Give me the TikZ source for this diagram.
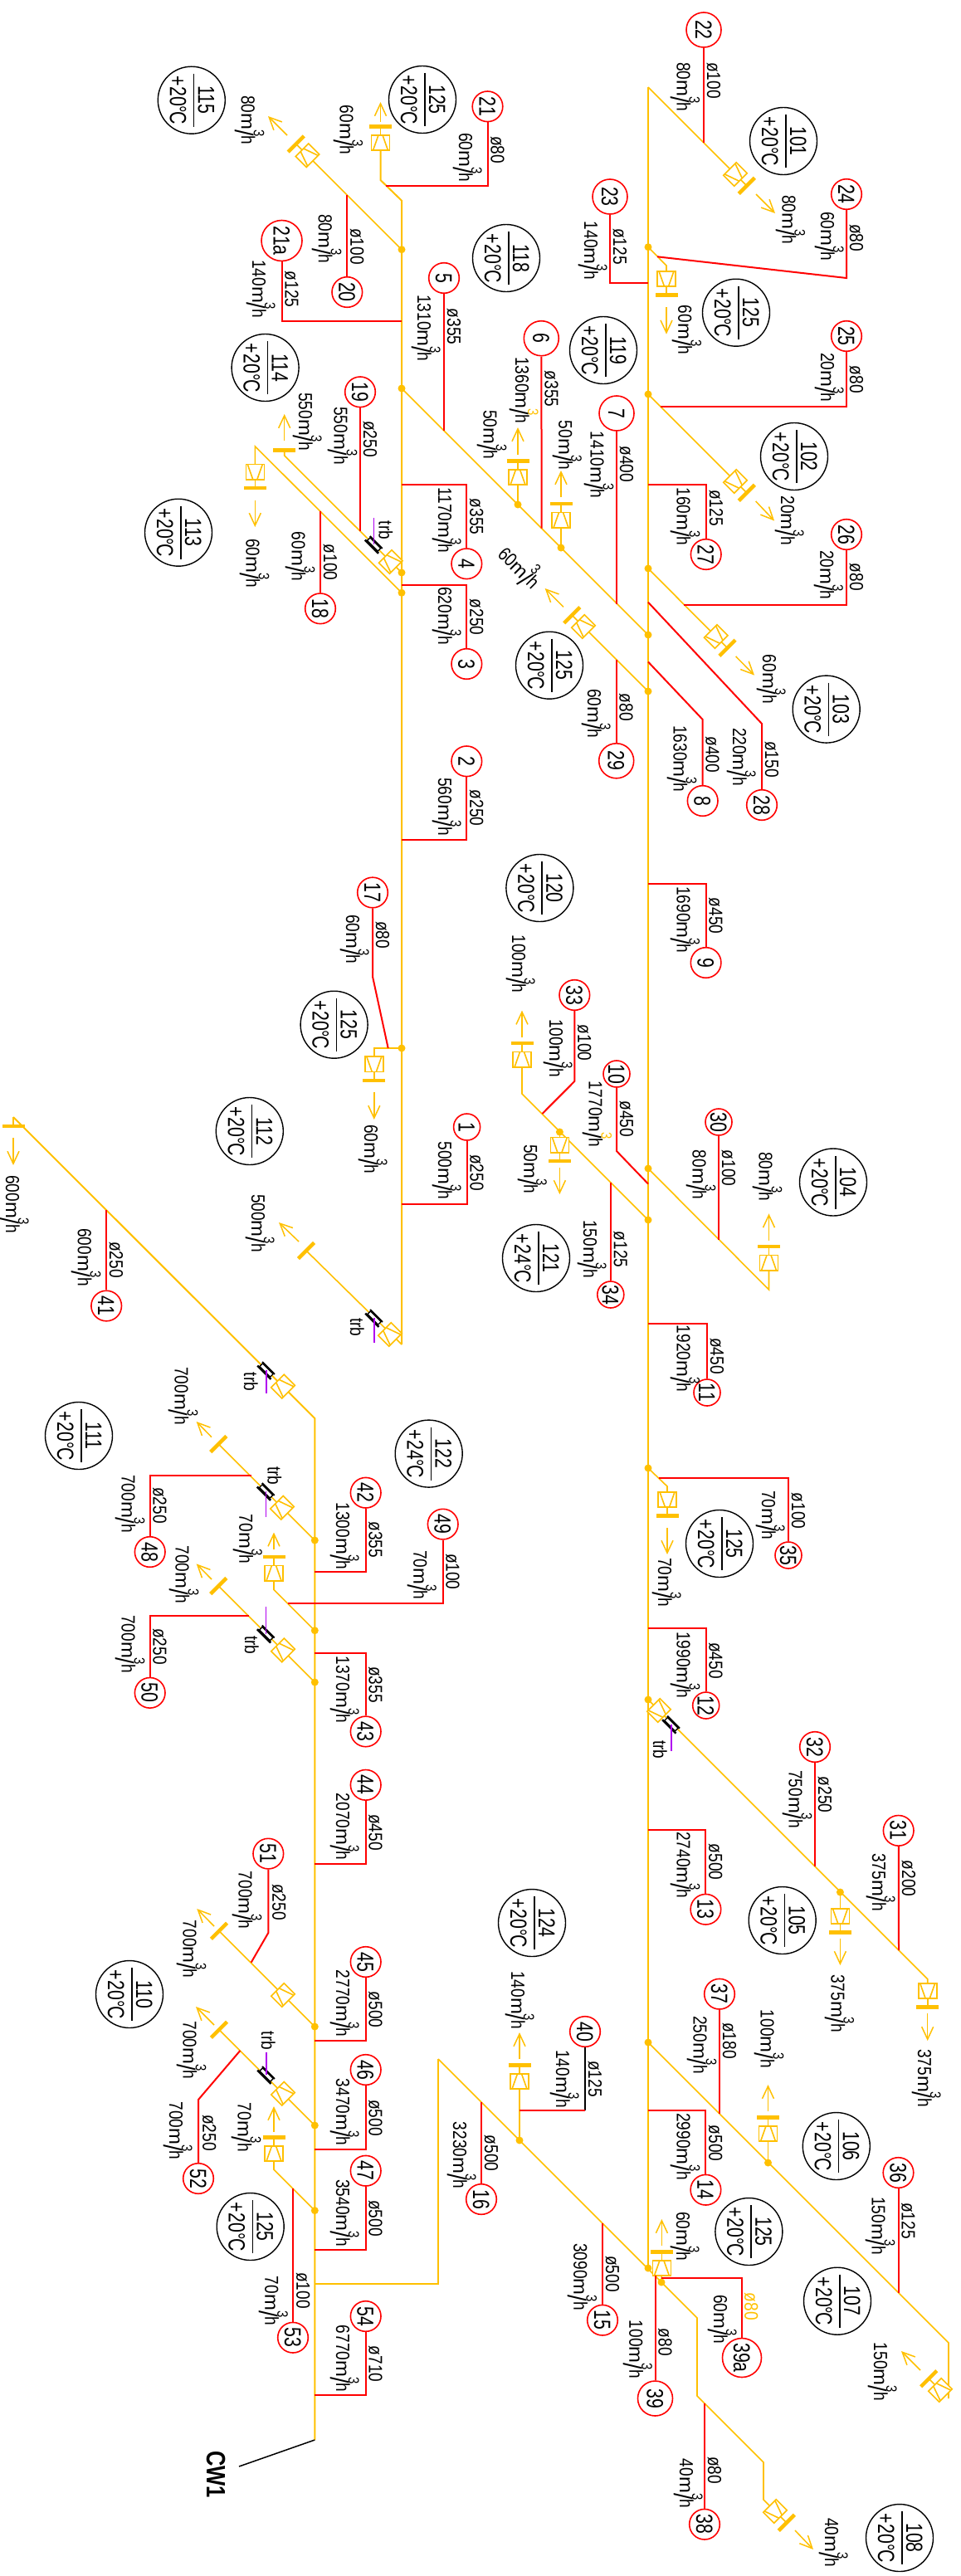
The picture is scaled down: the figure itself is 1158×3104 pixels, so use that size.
\documentclass[tikz,border=0pt]{standalone}
\usepackage{fontspec}
\usepackage{graphicx}
\usetikzlibrary{arrows.meta}
\newfontfamily\labfont[FakeStretch=.83]{Liberation Sans}
\newfontfamily\bubfont[FakeStretch=.76]{Liberation Sans}
\newfontfamily\cwfont[FakeStretch=.8]{Liberation Sans}
\definecolor{pipeyel}{HTML}{FFC000}
\definecolor{trbvio}{HTML}{B000F0}

\newcommand{\flowtxt}[2][black]{#2\scalebox{1.25}[1]{m}\rlap{\raisebox{.66em}{\textcolor{#1}{\fontsize{18}{18}\selectfont 3}}}\raisebox{-.3em}{\scalebox{1.4}[1.35]{/}}h}
\newcommand{\tagtxt}[1]{\smash{\makebox[0pt]{\raisebox{-10pt}{#1}}}}
\newcommand{\roomtxt}[2]{\smash{\makebox[0pt]{\raisebox{8pt}{#1}}\makebox[0pt]{\rule[2pt]{64pt}{1.5pt}}\makebox[0pt]{\raisebox{-26pt}{+\kern1pt#2\kern-.5pt°\kern-1.5pt C}}}}
\newcommand{\boxvcode}{
  \draw[yelthin,fill=white] (-9.2,-11) rectangle (9.2,11);
  \draw[yelthin] (-9.2,-9) -- (9.2,-2.5) (-9.2,9) -- (9.2,2.5);
}
\newcommand{\barvcode}[1]{
  \draw[draw=pipeyel,line width=4.5pt] (#1,-13.5) -- (#1,13.5);
}

\tikzset{
  yelpipe/.style={draw=pipeyel,line width=2pt},
  yelthin/.style={draw=pipeyel,line width=1.6pt},
  redpipe/.style={draw=red,line width=2pt},
  flowarr/.style={draw=pipeyel,line width=1.5pt,-{Straight Barb[length=15pt,width=14pt]}},
  tagnode/.style={circle,draw=red,line width=1.6pt,inner sep=0pt,rotate=-90,font=\bubfont\fontsize{28}{28}\selectfont},
  roombub/.style={circle,draw=black,line width=1.4pt,inner sep=0pt,minimum size=81pt,rotate=-90,font=\bubfont\fontsize{28}{28}\selectfont},
  dialab/.style={rotate=-90,anchor=base west,inner sep=0pt,font=\labfont\fontsize{23}{23}\selectfont},
  flowlab/.style={dialab},
  boxv/.pic={\boxvcode},
  barv/.pic={\barvcode{0}},
  valve/.pic={
    \boxvcode
    \draw[yelthin] (9.2,0) -- (19.5,0);
    \barvcode{19.5}
  },
  trbsym/.pic={
    \draw[black,line width=1.4pt,fill=white] (-9,-2.5) rectangle (9,2.5);
    \draw[black,line width=2.6pt] (-11.5,3.8) -- (11.5,3.8);
    \draw[black,line width=2pt] (-10.5,-3.6) -- (10.5,-3.6);
  },
}

\begin{document}
\begin{tikzpicture}[x=1pt,y=-1pt]
\useasboundingbox (0,0) rectangle (1158,3104);

% pipe points
\foreach \n/\x/\y in {
  lv1/458.5/172, la/458.5/217, lb/484/241.7, lc/484/1620,
  d115/484/300.7, v115/370.5/187.3, dA/484/468, dB/781/765,
  d690/484/690, e690/342.7/549, b690/342.7/542.7, d714/484/714.3,
  e714/307.3/537.7, v714/307.3/568.7, d1263/484/1263, e1263/450.8/1263, v1263/450.8/1282.4,
  b1507/369/1507, d608/624/608, v608/624/575, d660/676/660, v660/676/626.7,
  d833/781/833, v833/703/755,
  ra/781/105, rb/781/2733, v101/886/210, d298/781/297.7, e298/803/320, v298/803/336,
  d475/781/475, v102/886/580, d685/781/685, v103/862.7/767,
  d1408/781/1408, e1408/926.5/1554, v1408/926.5/1521.6,
  d1470/781/1470, e1470/629/1318, v1470/629/1276.7, d1364/674.4/1364, v1364/674.4/1379.6,
  d1769/781/1769, e1769/804/1791, v1769/804/1807,
  d2048/781/2048, e2048/1117.7/2384.7, v2048/1117.7/2399, d2280/1012.4/2280, v2280/1012.4/2309,
  d2461/781/2461, e2461/1143/2823, f2461/1143/2890, v2461/1133/2880, d2606/925.5/2606, v2606/925.5/2571,
  ma/16/1346, mb/16/1357, mc/379.3/1709, md/379.3/2940,
  d1856/379.3/1856, b1740/263.3/1740, d1965/379.3/1964.7, e1965/330/1915.4, v1965/330/1895.5,
  d2027/379.3/2027, b1911/263.3/1911, d2442/379.3/2442, b2327/264/2326.7,
  d2561/379.3/2561, b2446/264/2445.7, d2664/379.3/2663.6, e2664/330/2614.3, v2664/330/2595,
  na/379.3/2752, nb/528/2752, nc/528/2481, nd/840/2793, ne/840/2887, nf/920/2967, ng/920/3012, v108/934/3026,
  d2579/626/2579, v2579/626/2508, d2733/781/2733, d2750/797/2750, v2750/797.4/2733,
  cwa/379.3/2940, cwb/288/2972}
  \coordinate (\n) at (\x,\y);

\draw[yelpipe] (lv1) -- (la) -- (lb) -- (lc);
\draw[yelpipe] (ra) -- (rb);
\draw[yelpipe] (ma) -- (mc) -- (md);
\draw[yelthin] (ma) -- (mb);
\draw[yelthin] (ra) -- (v101);
\draw[yelthin] (lc) -- (b1507);
\draw[yelthin] (d115) -- (v115);
\draw[yelthin] (dA) -- (dB);
\draw[yelthin] (d690) -- (e690) -- (b690);
\draw[yelthin] (d714) -- (e714) -- (v714);
\draw[yelthin] (d1263) -- (e1263) -- (v1263);
\draw[yelthin] (d608) -- (v608);
\draw[yelthin] (d660) -- (v660);
\draw[yelthin] (d833) -- (v833);
\draw[yelthin] (d298) -- (e298) -- (v298);
\draw[yelthin] (d475) -- (v102);
\draw[yelthin] (d685) -- (v103);
\draw[yelthin] (d1408) -- (e1408) -- (v1408);
\draw[yelthin] (d1470) -- (e1470) -- (v1470);
\draw[yelthin] (d1364) -- (v1364);
\draw[yelthin] (d1769) -- (e1769) -- (v1769);
\draw[yelthin] (d2048) -- (e2048) -- (v2048);
\draw[yelthin] (d2280) -- (v2280);
\draw[yelthin] (d2461) -- (e2461) -- (f2461);
\draw[yelthin] (d2606) -- (v2606);
\draw[yelthin] (d1856) -- (b1740);
\draw[yelthin] (d1965) -- (e1965) -- (v1965);
\draw[yelthin] (d2027) -- (b1911);
\draw[yelthin] (d2442) -- (b2327);
\draw[yelthin] (d2561) -- (b2446);
\draw[yelthin] (d2664) -- (e2664) -- (v2664);
\draw[yelpipe] (na) -- (nb) -- (nc);
\draw[yelthin] (nc) -- (nd) -- (ne) -- (nf) -- (ng) -- (v108);
\draw[yelthin] (d2579) -- (v2579);
\draw[yelthin] (d2750) -- (v2750);

\foreach \p in {d115,dA,dB,d690,d714,d1263,d608,d660,d833,d298,d475,d685,d1408,d1470,d1364,
  d1769,d2048,d2280,d2461,d2606,d1856,d1965,d2027,d2442,d2561,d2664,d2579,d2733,d2750}
  \fill[pipeyel] (\p) circle (4.5pt);

% valves
\foreach \p/\r in {lv1/90,v115/135,v101/-45,v298/-90,v102/-45,v103/-45,v833/135,v608/90,v660/90,
  v714/-90,v1263/-90,v1408/90,v1470/90,v1364/-90,v1769/-90,v2048/-90,v2280/-90,v2461/135,v2606/90,
  v1965/90,v2664/90,v2579/90,v2750/90,v108/-45}
  \pic[rotate=\r] at (\p) {valve};
\foreach \x/\y/\r in {470.7/677/135,470/1608/135,341/1670.6/135,340/1816.7/135,341/1988.4/135,
  794/2061/-45,341/2404/135,341/2522.7/135}
  \pic[rotate=\r] at (\x,\y) {boxv};
\foreach \p/\r in {b690/90,b1507/135,mb/-90,b1740/135,b1911/135,b2327/135,b2446/135}
  \pic[rotate=\r] at (\p) {barv};

% flow arrows
\foreach \xa/\ya/\xb/\yb [count=\i] in {
  458.5/146.7/458.5/123, 346/163/323/140, 911/234/934/257, 803/370/803/402.7,
  910.7/604/933/627.5, 886.7/791/909/813.6, 679/731.4/656.7/709, 624/547.7/624/515, 676/599/676/567,
  342.7/531/342.7/499, 307.3/602.7/307.3/635, 450.8/1316/450.8/1349, 360/1496/336/1473,
  16/1371/16/1404, 926.5/1495/926.5/1462.4, 629/1250/629/1217.6, 674.4/1407/674.4/1439,
  804/1841/804/1873, 1117.7/2426/1117.7/2459, 1012.4/2335.7/1012.4/2368,
  1109/2856/1086/2833, 925.5/2544/925.5/2512, 626/2481/626/2449, 797.4/2706/797.4/2674,
  958/3049/980/3072, 255/1731.7/236.7/1713, 330/1867/330/1846.5, 255/1903/236.7/1884.4,
  258/2321/237.3/2300, 258/2440/236/2418, 330/2569/330/2538}{
  \coordinate (af\i) at (\xa,\ya);
  \coordinate (at\i) at (\xb,\yb);
  \draw[flowarr] (af\i) -- (at\i);
}

% trb
\foreach \x/\y/\ye/\xt/\yt [count=\i] in {
  450.7/656/624/456.7/627.7, 451/1588/1618/422/1588, 321/1651/1678.5/294/1653.6,
  320.7/1797/1827.5/322.7/1767, 320.7/1968.6/1936/295/1971, 809/2077.7/2110/787/2097,
  321/2500/2473/315/2447.5}{
  \pic[rotate=-45] at (\x,\y) {trbsym};
  \coordinate (ts\i) at (\x,\y);
  \coordinate (te\i) at (\x,\ye);
  \draw[trbvio,line width=1.5pt] (ts\i) -- (te\i);
  \node[dialab] (trb\i) at (\xt,\yt) {trb};
}

% room bubbles
\foreach \x/\y/\a/\b [count=\i] in {
  230.8/120.7/115/20, 509/120/125/20, 610/311/118/20, 319.6/443/114/20, 944/170/101/20,
  887/376.7/125/20, 727/422/119/20, 957/550/102/20, 995.7/854.6/103/20, 662/801.7/125/20,
  215/641.7/113/20, 650.4/1070/120/20, 402.6/1234.7/125/20, 300.8/1363/112/20,
  1004/1424.5/104/20, 646/1516/121/24, 516.7/1751.6/122/24, 95/1730/111/20, 867/1860/125/20,
  942.7/2314/105/20, 641/2317/124/20, 1007.8/2586/106/20, 902.4/2689/125/20, 1009/2772.7/107/20,
  1084/3058/108/20, 156/2403/110/20, 301.7/2683/125/20}
  \node[roombub] (room\i) at (\x,\y) {\roomtxt{\a}{\b}};

% tags
\foreach \n/\x/\y/\s in {
  22/848/36/42, 21/587.5/128.3/36.6, 20/418.3/352/36.6, 21a/339.5/290/49, 5/535/335/36.6,
  19/434/472.3/36.6, 24/1020/234/36.6, 23/735/237/42, 25/1020/405/36.6, 6/652.3/407.7/42,
  7/743/498/42, 26/1020/644/36.6, 27/850.7/668/36.6, 28/918/970/36.6, 8/846.7/965/36.6,
  29/742.7/916.8/42, 4/562.3/679.3/36.6, 3/562.3/800/36.6, 2/562.3/917.3/36.6, 18/386/733.3/36.6,
  17/449/1075.5/36.6, 1/562.6/1358/32, 41/128.2/1573.5/36.6, 9/850.6/1160/36.6, 33/692.3/1199/36.6,
  10/743/1294/32, 30/866/1352/32, 34/735.8/1560/32, 11/852/1678/32, 35/950/1874/32, 12/850.7/2055/32,
  32/982/2105/36.6, 31/1082.7/2205.8/36.6, 13/850.4/2300.7/36.6, 37/867/2402.7/36.6, 14/850.4/2638.7/36.6,
  36/1082.5/2618/36.6, 16/580/2650/36.6, 40/705/2448/36.6, 15/726/2795.7/36.6, 39/789.5/2890/42,
  39a/894/2841/47, 38/849/3041.7/36.6, 42/440.7/1798.7/36.6, 49/533.7/1836.6/36.6, 48/180.7/1870/36.6,
  50/180.7/2039.8/36.6, 43/440.7/2086.4/36.6, 44/440.7/2150.8/36.6, 51/323.3/2233.6/36.6,
  45/440.7/2364/36.6, 52/239/2625/36.6, 46/440.7/2494/36.6, 47/440.7/2615.7/36.6, 53/353/2816.7/36.6,
  54/440.7/2791/36.6}
  \node[tagnode,minimum size=\s pt] (t\n) at (\x,\y) {\tagtxt{\n}};

% tag branches
\foreach \n/\xa/\ya/\xb/\yb in {
  22/848/172/848/172, 21/587.5/224/465/224, 20/418.3/235/418.3/235, 21a/339.5/386.7/484/386.7,
  5/535/519/535/519, 19/434/640/434/640, 24/1020/335/792/309.3, 23/735/341/781/341,
  25/1020/490/796/490, 6/652.7/636.7/652.7/636.7, 7/743/728/743/728, 26/1020/728.6/824/728.6,
  27/850.7/584/781/584, 28/918/872/781/725.7, 8/846.7/867/781/797.5, 29/742.7/794.6/742.7/794.6,
  4/562.3/584/484/584, 3/562.3/705/484/705, 2/562.3/1012/484/1012, 18/386/616/386/616,
  17/449/1176.7/467.7/1263, 1/562.6/1450.6/484/1450.6, 41/128.2/1458/128.2/1458,
  9/850.6/1064.5/781/1064.5, 33/692.3/1303/653.4/1342, 10/743/1387/781/1426.5, 30/866/1494/866/1494,
  34/735.8/1424.5/735.8/1424.5, 11/852/1595/781/1595, 35/950/1781/794/1781, 12/850.7/1962/781/1962,
  32/982/2249/982/2249, 31/1083/2350/1083/2350, 13/850.4/2205/781/2205, 37/867/2547/867/2547,
  14/850.4/2543/781/2543, 36/1082.5/2763/1082.5/2763, 16/580/2533/580/2533, 15/726/2679/726/2679,
  39/789.5/2742/789.5/2742, 39a/894/2745/796.7/2745, 38/849/2896/849/2896,
  42/440.7/1893.5/379.3/1893.5, 49/533.7/1932/346.7/1932, 48/180.7/1778/302.7/1778,
  50/180.7/1947.3/300/1947.3, 43/440.7/1991.5/379.3/1991.5, 44/440.7/2245.7/379.3/2245.7,
  51/323.3/2329/302.7/2364.6, 45/440.7/2458.6/379.3/2458.6, 52/239/2530/289.3/2471,
  46/440.7/2589.6/379.3/2589.6, 47/440.7/2711/379.3/2711, 53/353/2636.8/353/2636.8,
  54/440.7/2886/379.3/2886}{
  \coordinate (c\n) at (\xa,\ya);
  \coordinate (j\n) at (\xb,\yb);
  \draw[redpipe] (t\n) -- (c\n) -- (j\n);
}
\coordinate (c40) at (705,2543);
\coordinate (j40) at (626,2543);
\draw[black,line width=1.6pt] (t40) -- (c40);
\draw[redpipe] (c40) -- (j40);

% pipe sizes
\foreach \x/\y/\t [count=\i] in {
  852/75/100, 591.5/164/80, 422.3/275/100, 343.5/326.7/125, 539/371.7/355, 438/507/250,
  1024/270/80, 739/275/125, 1024/440.7/80, 656.7/446.7/355, 747/537.5/400, 855/590/125,
  1024/678.6/80, 922/893/150, 850.7/887.5/400, 746.7/835.7/80, 566.3/600.7/355, 566.3/721.7/250,
  566.3/951.7/250, 390/655.7/100, 453/1110/80, 566.6/1391/250, 132.2/1496/250, 854.6/1081.6/450,
  696.3/1234.7/100, 747/1326.5/450, 870/1385.7/100, 739.8/1483.7/125, 856/1612/450, 954/1798.7/100,
  854.7/1979/450, 986/2140.6/250, 854.4/2221.6/500, 1087/2241.7/200, 871/2437/180, 854.4/2560.7/500,
  1086.5/2654/125, 730/2718/500, 793.5/2805.7/80, 853/2960/80, 584/2572.7/500, 709/2483/125,
  444.7/1833.4/355, 537.7/1871.8/100, 184.7/1792/250, 184.7/1962/250, 444.7/2008/355, 444.7/2186/450,
  328.3/2270/250, 444.7/2399.6/500, 444.7/2530/500, 244.3/2547.9/250, 444.7/2651/500, 357.3/2738/100,
  444.7/2826.7/710}
  \node[dialab] (dia\i) at (\x,\y) {ø\t};
\node[dialab,text=pipeyel] (dia39a) at (897.3,2762.7) {ø80};

% flows
\foreach \x/\y/\t [count=\i] in {
  553/160/60, 383.8/258/80, 304/313/140, 503/355/1310, 402.7/490/550, 360/473/550,
  409.5/126.7/60, 290.8/115/80, 815.5/75/80, 942.5/235/80, 989/255/60, 704/266.7/140,
  817.4/367.7/60, 989/425/20, 711.7/519.6/1410, 582.7/494/50, 673.3/506.7/50, 815.7/587.5/160,
  941/597.5/20, 988.3/663/20, 919/788.6/60, 883/876.8/220, 811.7/874/1630, 708/830/60,
  528/587/1170, 528/707/620, 528/937/560, 351.7/640.7/60, 296.7/649/60, 417/1102/60,
  439/1355/60, 528/1375.5/500, 303/1438.8/500, 93.8/1480/600, 7/1416/600, 815.5/1068/1690,
  617/1126.5/100, 662/1227.8/100, 834.6/1385.7/80, 914.7/1387.8/80, 631.3/1378.8/50, 703/1470/150,
  815.5/1596.7/1920, 918/1796/70, 793/1877/70, 815.7/1966/1990, 950.7/2133/750, 815.7/2207/2740,
  1051/2233/375, 1001.5/2379/375, 1106/2469/375, 835.7/2429/250, 916.7/2421.7/100, 815.6/2546/2990,
  815/2665/60, 1050.6/2647/150, 1053/2822.7/150, 691.4/2703/3090, 758.3/2795.7/100, 860/2765/60,
  819/2962.7/40, 994/3034/40, 546/2556.7/3230, 616/2375/140, 670/2470/140, 405/1810.5/1300,
  498.3/1868/70, 210.7/1647/700, 146.7/1777/700, 288.3/1824.7/70, 211.7/1862.3/700, 146.7/1946/700,
  405/1995.5/1370, 405/2160.7/2070, 287.7/2254.6/700, 220.7/2313.6/700, 405/2373.6/2770, 220.7/2435.4/700,
  405/2504.6/3470, 286.7/2533.6/70, 204/2532.5/700, 405/2626/3540, 319.3/2742.7/70, 405/2801.7/6770}
  \node[flowlab] (fl\i) at (\x,\y) {\flowtxt{\t}};
\node[flowlab] (fly6) at (621,430) {\flowtxt[pipeyel]{1360}};
\node[flowlab] (fly10) at (709.5,1302) {\flowtxt[pipeyel]{1770}};
\node[rotate=-45,inner sep=0pt,font=\labfont\fontsize{23}{23}\selectfont] (fl29) at (626.7,683) {\flowtxt{60}};

\node[rotate=-90,anchor=base west,inner sep=0pt,font=\cwfont\bfseries\fontsize{32}{32}\selectfont] (cw) at (249,2953) {CW1};
\draw[black,line width=1.5pt] (cwa) -- (cwb);

\end{tikzpicture}
\end{document}
